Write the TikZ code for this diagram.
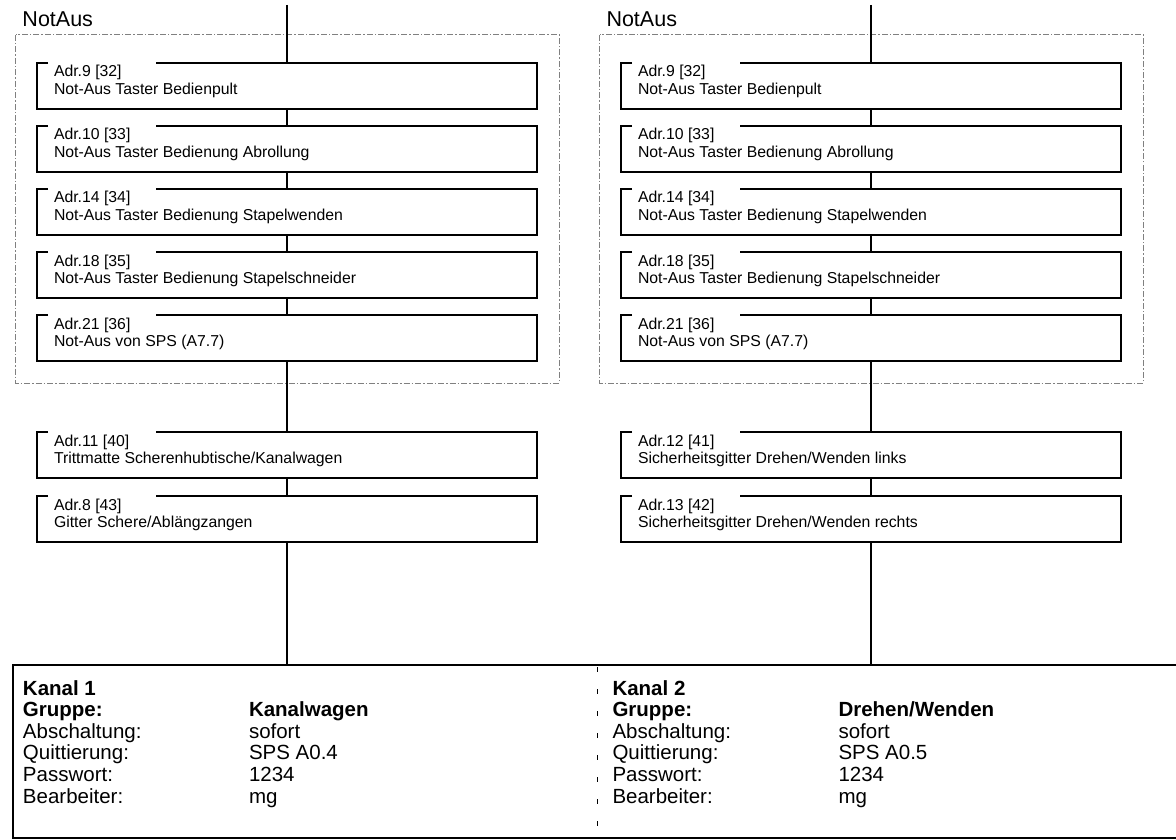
\documentclass[tikz,border=0pt]{standalone}
\usepackage{fontspec}
\setmainfont{Liberation Sans}
\newcommand\drawitem[5]{%
  \node[itembox] (#1) at (#2+250, #3+23) {};
  \node[lbl, anchor=base west] (#1l) at (#2+17, #3+14) {#4};
  \node[lbl, anchor=base west] (#1t) at (#2+17, #3+31.5) {#5};
  \draw[frame] ([xshift=11pt]#1.north west) -- (#1.north west) -- (#1.south west) -- (#1.south east) -- (#1.north east) -- ([xshift=119pt]#1.north west);
}
\begin{document}
\begin{tikzpicture}[x=1pt,y=-1pt,
  every node/.style={inner sep=0pt, outer sep=0pt},
  itembox/.style={rectangle, minimum width=500pt, minimum height=46pt},
  lbl/.style={font=\fontsize{15.8}{18}\selectfont},
  title/.style={font=\fontsize{21.5}{24}\selectfont, anchor=base west},
  info/.style={font=\fontsize{20.5}{24}\selectfont, anchor=base west},
  infob/.style={info, font=\fontsize{20.5}{24}\selectfont\bfseries},
  frame/.style={draw=black, line width=2pt},
  conn/.style={draw=black, line width=2pt},
  grp/.style={draw=gray, line width=1pt, dash pattern=on 6pt off 2pt on 1.5pt off 2pt},
  sepline/.style={draw=black, line width=1pt, dash pattern=on 5pt off 17pt}]
\useasboundingbox (0,0) rectangle (1176,840);

% ---------- left column ----------
\node[title] (naL) at (22.5,27) {NotAus};
\draw[grp] (15.5,35) rectangle (559,383);
\drawitem{L1}{37}{63}{Adr.9 [32]}{Not-Aus Taster Bedienpult}
\drawitem{L2}{37}{126}{Adr.10 [33]}{Not-Aus Taster Bedienung Abrollung}
\drawitem{L3}{37}{189}{Adr.14 [34]}{Not-Aus Taster Bedienung Stapelwenden}
\drawitem{L4}{37}{252}{Adr.18 [35]}{Not-Aus Taster Bedienung Stapelschneider}
\drawitem{L5}{37}{315}{Adr.21 [36]}{Not-Aus von SPS (A7.7)}
\drawitem{L6}{37}{432}{Adr.11 [40]}{Trittmatte Scherenhubtische/Kanalwagen}
\drawitem{L7}{37}{496}{Adr.8 [43]}{Gitter Schere/Ablängzangen}
\coordinate (topL) at (287,5);
\coordinate (pinL) at (287,665);
\draw[conn] (topL) -- (L1.north);
\draw[conn] (L1.south) -- (L2.north);
\draw[conn] (L2.south) -- (L3.north);
\draw[conn] (L3.south) -- (L4.north);
\draw[conn] (L4.south) -- (L5.north);
\draw[conn] (L5.south) -- (L6.north);
\draw[conn] (L6.south) -- (L7.north);
\draw[conn] (L7.south) -- (pinL);

% ---------- right column ----------
\node[title] (naR) at (606.5,27) {NotAus};
\draw[grp] (599.5,35) rectangle (1143,383);
\drawitem{R1}{621}{63}{Adr.9 [32]}{Not-Aus Taster Bedienpult}
\drawitem{R2}{621}{126}{Adr.10 [33]}{Not-Aus Taster Bedienung Abrollung}
\drawitem{R3}{621}{189}{Adr.14 [34]}{Not-Aus Taster Bedienung Stapelwenden}
\drawitem{R4}{621}{252}{Adr.18 [35]}{Not-Aus Taster Bedienung Stapelschneider}
\drawitem{R5}{621}{315}{Adr.21 [36]}{Not-Aus von SPS (A7.7)}
\drawitem{R6}{621}{432}{Adr.12 [41]}{Sicherheitsgitter Drehen/Wenden links}
\drawitem{R7}{621}{496}{Adr.13 [42]}{Sicherheitsgitter Drehen/Wenden rechts}
\coordinate (topR) at (871,5);
\coordinate (pinR) at (871,665);
\draw[conn] (topR) -- (R1.north);
\draw[conn] (R1.south) -- (R2.north);
\draw[conn] (R2.south) -- (R3.north);
\draw[conn] (R3.south) -- (R4.north);
\draw[conn] (R4.south) -- (R5.north);
\draw[conn] (R5.south) -- (R6.north);
\draw[conn] (R6.south) -- (R7.north);
\draw[conn] (R7.south) -- (pinR);

% ---------- bottom panel ----------
\coordinate (pTL) at (13,665);
\coordinate (pBL) at (13,838);
\coordinate (pTR) at (1180,665);
\coordinate (pBR) at (1180,838);
\draw[frame] (pTR) -- (pTL) -- (pBL) -- (pBR);
\coordinate (sepT) at (597,667);
\coordinate (sepB) at (597,838);
\draw[sepline] (sepT) -- (sepB);

\node[infob] (k1) at (23,695) {Kanal 1};
\node[infob] (g1) at (23,716.6) {Gruppe:};
\node[infob] (g1v) at (249,716.6) {Kanalwagen};
\node[info] (a1) at (23,738.2) {Abschaltung:};
\node[info] (a1v) at (249,738.2) {sofort};
\node[info] (q1) at (23,759.8) {Quittierung:};
\node[info] (q1v) at (249,759.8) {SPS A0.4};
\node[info] (p1) at (23,781.4) {Passwort:};
\node[info] (p1v) at (249,781.4) {1234};
\node[info] (b1) at (23,803) {Bearbeiter:};
\node[info] (b1v) at (249,803) {mg};

\node[infob] (k2) at (612.5,695) {Kanal 2};
\node[infob] (g2) at (612.5,716.6) {Gruppe:};
\node[infob] (g2v) at (838.5,716.6) {Drehen/Wenden};
\node[info] (a2) at (612.5,738.2) {Abschaltung:};
\node[info] (a2v) at (838.5,738.2) {sofort};
\node[info] (q2) at (612.5,759.8) {Quittierung:};
\node[info] (q2v) at (838.5,759.8) {SPS A0.5};
\node[info] (p2) at (612.5,781.4) {Passwort:};
\node[info] (p2v) at (838.5,781.4) {1234};
\node[info] (b2) at (612.5,803) {Bearbeiter:};
\node[info] (b2v) at (838.5,803) {mg};
\end{tikzpicture}
\end{document}
